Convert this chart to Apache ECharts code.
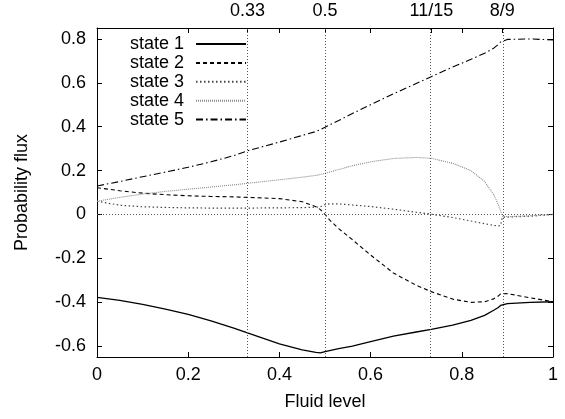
<!DOCTYPE html>
<html>
<head>
<meta charset="utf-8">
<script src="https://cdn.jsdelivr.net/npm/echarts@6/dist/echarts.min.js"></script>
<style>
  html, body { margin: 0; padding: 0; background: #fff; }
  #chart { width: 565px; height: 419px; }
</style>
</head>
<body>
<div id="chart"></div>
<script>
// Fluid level sample points shared by all five states
const fluidLevel = [0, 0.05, 0.1, 0.15, 0.2, 0.25, 0.3, 0.33, 0.4, 0.45, 0.48, 0.49, 0.5, 0.51, 0.53, 0.56,
  0.6, 0.65, 0.7, 0.733, 0.78, 0.82, 0.85, 0.87, 0.88, 0.885, 0.889, 0.9, 0.95, 1];

// Probability flux of each state
const state1 = [-0.378, -0.392, -0.41, -0.432, -0.456, -0.485, -0.518, -0.54, -0.59, -0.618, -0.629, -0.631, -0.626, -0.621, -0.612, -0.6,
  -0.58, -0.555, -0.536, -0.524, -0.505, -0.483, -0.46, -0.437, -0.424, -0.415, -0.41, -0.407, -0.401, -0.398];
const state2 = [0.122, 0.108, 0.097, 0.09, 0.085, 0.082, 0.08, 0.078, 0.072, 0.058, 0.035, 0.022, 0.0, -0.025, -0.065, -0.115,
  -0.185, -0.267, -0.323, -0.352, -0.386, -0.401, -0.398, -0.385, -0.372, -0.362, -0.357, -0.361, -0.38, -0.398];
const state3 = [0.06, 0.042, 0.035, 0.032, 0.03, 0.029, 0.029, 0.029, 0.03, 0.031, 0.033, 0.035, 0.045, 0.048, 0.048, 0.043,
  0.036, 0.024, 0.01, 0.001, -0.014, -0.03, -0.042, -0.05, -0.053, -0.05, -0.012, -0.012, -0.008, 0.0];
const state4 = [0.06, 0.078, 0.093, 0.105, 0.115, 0.125, 0.135, 0.142, 0.158, 0.17, 0.178, 0.182, 0.187, 0.193, 0.205, 0.222,
  0.24, 0.255, 0.26, 0.256, 0.233, 0.2, 0.15, 0.09, 0.045, 0.015, -0.008, -0.01, -0.006, 0.0];
const state5 = [0.13, 0.15, 0.172, 0.193, 0.215, 0.24, 0.268, 0.29, 0.33, 0.36, 0.378, 0.387, 0.397, 0.408, 0.428, 0.46,
  0.5, 0.55, 0.597, 0.628, 0.672, 0.707, 0.735, 0.758, 0.775, 0.786, 0.795, 0.798, 0.8, 0.796];

const stateNames = ['state 1', 'state 2', 'state 3', 'state 4', 'state 5'];

// Special fluid levels marked along the top edge
const markLevels = [0.33, 0.5, 11 / 15, 8 / 9];
const markLabels = ['0.33', '0.5', '11/15', '8/9'];

const bottomTicks = [0, 0.2, 0.4, 0.6, 0.8, 1];
const yTicks = [-0.6, -0.4, -0.2, 0, 0.2, 0.4, 0.6, 0.8];

const FONT = '"Liberation Sans", Arial, Helvetica, sans-serif';
const FS = 18;

const lineStyles = [
  { color: '#000', width: 1.3, type: 'solid' },
  { color: '#000', width: 1.1, type: [4, 3] },
  { color: '#444', width: 1.2, type: [1.5, 2.5] },
  { color: '#888', width: 1.1, type: [1, 1] },
  { color: '#000', width: 1.1, type: [7, 3, 1.5, 3] }
];

const values = [state1, state2, state3, state4, state5];

const series = values.map((ys, k) => ({
  name: stateNames[k],
  type: 'line',
  symbol: 'none',
  smooth: false,
  z: 3,
  lineStyle: lineStyles[k],
  itemStyle: { color: lineStyles[k].color },
  data: fluidLevel.map((x, i) => [x, ys[i]])
}));

// Reference lines: special fluid levels and the zero level
series.push({
  type: 'line',
  data: [],
  silent: true,
  z: 1,
  markLine: {
    symbol: 'none',
    silent: true,
    animation: false,
    label: { show: false },
    lineStyle: { color: '#555', width: 1, type: [1, 2] },
    data: markLevels.map(v => ({ xAxis: v })).concat([{ yAxis: 0 }])
  }
});

const frame = { show: true, onZero: false, lineStyle: { color: '#000', width: 1 } };
const tickIn = { show: true, inside: true, length: 5, lineStyle: { color: '#000', width: 1 } };

const chart = echarts.init(document.getElementById('chart'), null, { renderer: 'canvas' });
chart.setOption({
  animation: false,
  backgroundColor: '#fff',
  textStyle: { fontFamily: FONT },
  grid: { left: 97, right: 12, top: 28, bottom: 62, containLabel: false },
  legend: {
    orient: 'vertical',
    align: 'right',
    left: 128,
    top: 33,
    padding: [2, 2, 2, 2],
    backgroundColor: '#fff',
    itemWidth: 50,
    itemHeight: 14,
    itemGap: 0.9,
    selectedMode: false,
    itemStyle: { opacity: 0 },
    textStyle: { fontFamily: FONT, fontSize: FS, color: '#000', padding: [0, 7, 0, 0] },
    data: stateNames
  },
  xAxis: [
    {
      type: 'value', position: 'bottom', min: 0, max: 1, interval: 0.2,
      name: 'Fluid level', nameLocation: 'middle', nameGap: 36,
      nameTextStyle: { fontFamily: FONT, fontSize: FS, color: '#000' },
      axisLine: frame, axisTick: tickIn, splitLine: { show: false },
      axisLabel: {
        fontFamily: FONT, fontSize: FS, color: '#000', margin: 9,
        customValues: bottomTicks, formatter: v => String(+v.toFixed(2))
      }
    },
    {
      type: 'value', position: 'top', min: 0, max: 1,
      axisLine: frame, splitLine: { show: false },
      axisTick: Object.assign({}, tickIn, { customValues: bottomTicks.concat(markLevels) }),
      axisLabel: {
        fontFamily: FONT, fontSize: FS, color: '#000', margin: 8,
        customValues: markLevels,
        formatter: v => {
          let best = 0;
          markLevels.forEach((m, i) => { if (Math.abs(m - v) < Math.abs(markLevels[best] - v)) best = i; });
          return markLabels[best];
        }
      }
    }
  ],
  yAxis: [
    {
      type: 'value', position: 'left', min: -0.65, max: 0.85,
      name: 'Probability flux', nameLocation: 'middle', nameGap: 66, nameRotate: 90,
      nameTextStyle: { fontFamily: FONT, fontSize: FS, color: '#000' },
      axisLine: frame, splitLine: { show: false },
      axisTick: Object.assign({}, tickIn, { customValues: yTicks }),
      axisLabel: {
        fontFamily: FONT, fontSize: FS, color: '#000', margin: 11,
        customValues: yTicks, formatter: v => String(+v.toFixed(2))
      }
    },
    {
      type: 'value', position: 'right', min: -0.65, max: 0.85,
      axisLine: frame, splitLine: { show: false },
      axisTick: Object.assign({}, tickIn, { customValues: yTicks }),
      axisLabel: { show: false }
    }
  ],
  series: series
});
</script>
</body>
</html>
